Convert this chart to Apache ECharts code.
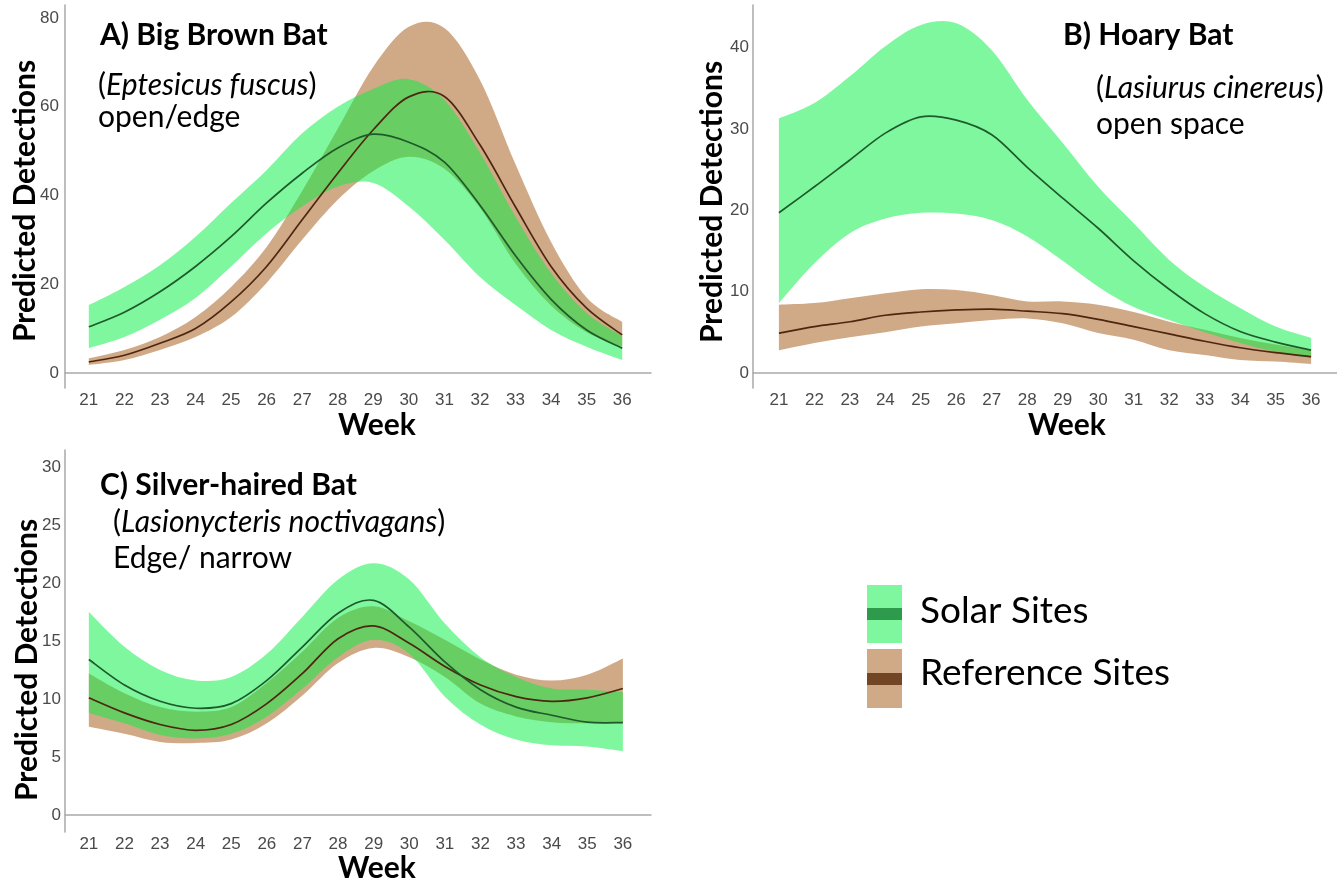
<!DOCTYPE html>
<html>
<head>
<meta charset="utf-8">
<title>Predicted weekly bat detections</title>
<script src="https://cdn.jsdelivr.net/npm/echarts@6/dist/echarts.min.js"></script>
<style>
  html, body { margin: 0; padding: 0; background: #fff; }
  #chart { width: 1337px; height: 884px; }
</style>
</head>
<body>
<div id="chart"></div>
<script>
// Survey weeks (x axis)
const weeks = [21, 22, 23, 24, 25, 26, 27, 28, 29, 30, 31, 32, 33, 34, 35, 36];

// Tick labels for the y axes
const ticksA = [0, 20, 40, 60, 80];
const ticksB = [0, 10, 20, 30, 40];
const ticksC = [0, 5, 10, 15, 20, 25, 30];

// A) Big Brown Bat — fitted detections with confidence band
const solarA_fit = [10.4, 13.7, 18.3, 24, 30.7, 38.3, 45, 50.7, 53.8, 52, 47.5, 37.8, 26.4, 16.6, 9.7, 5.6];
const solarA_hi  = [15.3, 19.4, 24.3, 30.7, 38.3, 45.7, 54, 60, 64, 66.2, 61.5, 49.6, 35.2, 22.5, 13.5, 8.3];
const solarA_lo  = [5.6, 8.1, 12, 16.9, 24, 31.5, 37.5, 42, 42.8, 37.5, 30, 21.6, 15.3, 9.7, 5.9, 2.9];
const refA_fit   = [2.5, 4, 6.7, 10, 16, 24, 34.5, 45, 54.8, 62.2, 62.3, 51.4, 37.4, 24, 14.6, 8.6];
const refA_hi    = [3.3, 5.2, 8.1, 12.6, 19.4, 28.4, 41, 55, 69, 78, 77.7, 66, 47, 29.5, 17, 11.5];
const refA_lo    = [1.8, 2.9, 5.2, 8.1, 12.6, 20.3, 30, 39, 45.5, 48.7, 46, 37.2, 24.6, 15.2, 9.2, 5.9];

// B) Hoary Bat
const solarB_fit = [19.7, 22.9, 26.2, 29.5, 31.5, 31.1, 29.3, 25.3, 21.5, 17.8, 13.8, 10.3, 7.3, 5.1, 3.8, 2.8];
const solarB_hi  = [31.3, 33.2, 36.5, 40.2, 42.8, 43, 39.7, 33.6, 28.3, 22.9, 18.4, 13.9, 10.6, 8, 5.7, 4.3];
const solarB_lo  = [8.6, 13.5, 17.2, 19, 19.7, 19.6, 18.8, 16.8, 13.8, 10.6, 8.1, 6.5, 5, 3.7, 2.6, 1.8];
const refB_fit   = [4.9, 5.7, 6.3, 7.1, 7.5, 7.75, 7.85, 7.6, 7.3, 6.6, 5.7, 4.8, 3.9, 3.1, 2.5, 2.0];
const refB_hi    = [8.4, 8.6, 9.2, 9.8, 10.3, 10.2, 9.6, 8.8, 8.8, 8.4, 7.5, 6.3, 5.3, 4.3, 3.5, 2.8];
const refB_lo    = [2.8, 3.7, 4.4, 5.0, 5.7, 6.1, 6.5, 6.7, 6.1, 4.9, 4.1, 2.8, 2.2, 1.6, 1.4, 1.1];

// C) Silver-haired Bat
const solarC_fit = [13.4, 11.2, 9.8, 9.2, 9.6, 11.6, 14.5, 17.4, 18.5, 16.2, 13.2, 10.8, 9.3, 8.6, 8.0, 7.96];
const solarC_hi  = [17.5, 14.5, 12.5, 11.6, 11.9, 13.9, 17.1, 20.3, 21.7, 20.3, 16.5, 13.6, 11.9, 10.9, 10.8, 10.6];
const solarC_lo  = [8.8, 7.9, 6.9, 6.6, 7.0, 8.5, 10.9, 13.6, 15.1, 13.9, 10.2, 7.8, 6.5, 6.0, 5.9, 5.5];
const refC_fit   = [10.1, 8.8, 7.8, 7.3, 7.8, 9.6, 12.2, 15.2, 16.3, 14.8, 12.8, 11.2, 10.2, 9.8, 10.1, 10.9];
const refC_hi    = [12.2, 10.5, 9.3, 8.9, 9.3, 11.4, 14.1, 17, 18, 16.7, 15.1, 13.4, 12.1, 11.6, 12.1, 13.5];
const refC_lo    = [7.6, 7.0, 6.3, 6.2, 6.5, 7.9, 10.3, 13.1, 14.4, 13.6, 11.9, 9.6, 8.5, 8.0, 7.9, 7.9];

// Colours
const SOLAR_FILL = 'rgba(0,240,64,0.5)';
const REF_FILL = 'rgba(161,85,15,0.5)';
const SOLAR_LINE = '#1f5a2b';
const REF_LINE = '#4e2610';

const TEXT_FONT = 'Lato, "Open Sans", sans-serif';
const TICK_FONT = '"Liberation Sans", Arial, sans-serif';

// Cubic bezier segments (Catmull-Rom) through pixel points
function curveSegments(pts) {
  let d = '';
  for (let i = 0; i < pts.length - 1; i++) {
    const p0 = pts[i - 1] || pts[i];
    const p1 = pts[i];
    const p2 = pts[i + 1];
    const p3 = pts[i + 2] || pts[i + 1];
    const c1x = p1[0] + (p2[0] - p0[0]) / 6, c1y = p1[1] + (p2[1] - p0[1]) / 6;
    const c2x = p2[0] - (p3[0] - p1[0]) / 6, c2y = p2[1] - (p3[1] - p1[1]) / 6;
    d += ' C' + c1x.toFixed(2) + ',' + c1y.toFixed(2) + ' ' + c2x.toFixed(2) + ',' +
         c2y.toFixed(2) + ' ' + p2[0].toFixed(2) + ',' + p2[1].toFixed(2);
  }
  return d;
}
const moveTo = (p) => 'M' + p[0].toFixed(2) + ',' + p[1].toFixed(2);
const lineTo = (p) => ' L' + p[0].toFixed(2) + ',' + p[1].toFixed(2);

// Confidence ribbon between lo and hi, drawn once for the whole series
function band(idx, name, hi, lo, fill) {
  return {
    type: 'custom', name: name, xAxisIndex: idx, yAxisIndex: idx, silent: true,
    data: weeks.map((w, i) => [w, lo[i], hi[i]]),
    encode: { x: 0, y: [1, 2] },
    renderItem: function (params, api) {
      if (params.dataIndex !== 0) return null;
      const upper = weeks.map((w, i) => api.coord([w, hi[i]]));
      const lower = weeks.map((w, i) => api.coord([w, lo[i]])).reverse();
      const d = moveTo(upper[0]) + curveSegments(upper) + lineTo(lower[0]) +
                curveSegments(lower) + ' Z';
      return { type: 'path', shape: { pathData: d }, style: { fill: fill, stroke: null } };
    }
  };
}

// Fitted curve
function fitLine(idx, name, vals, color) {
  return {
    type: 'custom', name: name, xAxisIndex: idx, yAxisIndex: idx, silent: true, z: 5,
    data: weeks.map((w, i) => [w, vals[i]]),
    encode: { x: 0, y: 1 },
    renderItem: function (params, api) {
      if (params.dataIndex !== 0) return null;
      const pts = weeks.map((w, i) => api.coord([w, vals[i]]));
      return {
        type: 'path', shape: { pathData: moveTo(pts[0]) + curveSegments(pts) },
        style: { fill: null, stroke: color, lineWidth: 1.7 }
      };
    }
  };
}

const axisLineStyle = { show: true, lineStyle: { color: '#a9a9a9', width: 1.5 } };

function xAxisFor(idx, min, max) {
  return {
    type: 'value', gridIndex: idx, min: min, max: max,
    axisLine: axisLineStyle, axisTick: { show: false }, splitLine: { show: false },
    axisLabel: {
      customValues: weeks, margin: 4, color: '#4a4a4a',
      fontSize: 17, fontFamily: TICK_FONT
    }
  };
}

function yAxisFor(idx, min, max, ticks, margin) {
  return {
    type: 'value', gridIndex: idx, min: min, max: max,
    axisLine: axisLineStyle, axisTick: { show: false }, splitLine: { show: false },
    axisLabel: {
      customValues: ticks, margin: margin, color: '#4a4a4a',
      fontSize: 17, fontFamily: TICK_FONT
    }
  };
}

function label(x, y, text, size, weight) {
  return {
    type: 'text', x: x, y: y, silent: true,
    style: {
      text: text, fill: '#000', textAlign: 'left', textVerticalAlign: 'middle',
      fontSize: size, fontWeight: weight, fontFamily: TEXT_FONT
    }
  };
}

function speciesLine(x, y, name) {
  return {
    type: 'text', x: x, y: y, silent: true,
    style: {
      text: '({i|' + name + '})', fill: '#000', textAlign: 'left', textVerticalAlign: 'middle',
      fontSize: 30, fontFamily: TEXT_FONT,
      rich: { i: { fontStyle: 'italic', fontSize: 30, fontFamily: TEXT_FONT, fill: '#000' } }
    }
  };
}

function axisTitle(x, y, text, rotated) {
  return {
    type: 'text', x: x, y: y, rotation: rotated ? Math.PI / 2 : 0, silent: true,
    style: {
      text: text, fill: '#000', textAlign: 'center', textVerticalAlign: 'middle',
      fontSize: 30, fontWeight: 'bold', fontFamily: TEXT_FONT
    }
  };
}

const series = [
  band(0, 'Reference A', refA_hi, refA_lo, REF_FILL),
  band(0, 'Solar A', solarA_hi, solarA_lo, SOLAR_FILL),
  fitLine(0, 'Reference A fit', refA_fit, REF_LINE),
  fitLine(0, 'Solar A fit', solarA_fit, SOLAR_LINE),
  band(1, 'Reference B', refB_hi, refB_lo, REF_FILL),
  band(1, 'Solar B', solarB_hi, solarB_lo, SOLAR_FILL),
  fitLine(1, 'Reference B fit', refB_fit, REF_LINE),
  fitLine(1, 'Solar B fit', solarB_fit, SOLAR_LINE),
  band(2, 'Reference C', refC_hi, refC_lo, REF_FILL),
  band(2, 'Solar C', solarC_hi, solarC_lo, SOLAR_FILL),
  fitLine(2, 'Reference C fit', refC_fit, REF_LINE),
  fitLine(2, 'Solar C fit', solarC_fit, SOLAR_LINE)
];

const option = {
  animation: false,
  backgroundColor: '#ffffff',
  grid: [
    { left: 65, top: 5, width: 586, height: 383, outerBoundsMode: 'none' },
    { left: 753, top: 5, width: 584, height: 383, outerBoundsMode: 'none' },
    { left: 65, top: 450, width: 586, height: 382, outerBoundsMode: 'none' }
  ],
  xAxis: [
    xAxisFor(0, 20.33, 36.81),
    xAxisFor(1, 20.27, 36.73),
    xAxisFor(2, 20.33, 36.79)
  ],
  yAxis: [
    yAxisFor(0, -3.38, 82.9, ticksA, 6),
    yAxisFor(1, -1.85, 45.26, ticksB, 4),
    yAxisFor(2, -1.47, 31.47, ticksC, 4)
  ],
  series: series,
  graphic: [
    // panel headings
    label(100, 35, 'A) Big Brown Bat', 30, 'bold'),
    speciesLine(98, 85, 'Eptesicus fuscus'),
    label(98, 117, 'open/edge', 30, 'normal'),

    label(1063, 35, 'B) Hoary Bat', 30, 'bold'),
    speciesLine(1096, 88, 'Lasiurus cinereus'),
    label(1096, 124, 'open space', 30, 'normal'),

    label(100, 485, 'C) Silver-haired Bat', 30, 'bold'),
    speciesLine(113, 522, 'Lasionycteris noctivagans'),
    label(113, 558, 'Edge/ narrow', 30, 'normal'),

    // axis titles
    axisTitle(25, 201, 'Predicted Detections', true),
    axisTitle(712, 202, 'Predicted Detections', true),
    axisTitle(27, 660, 'Predicted Detections', true),
    axisTitle(377, 425, 'Week', false),
    axisTitle(1067, 425, 'Week', false),
    axisTitle(377, 868, 'Week', false),

    // legend
    { type: 'rect', silent: true, shape: { x: 867, y: 585, width: 35, height: 58 }, style: { fill: SOLAR_FILL } },
    { type: 'rect', silent: true, shape: { x: 867, y: 608, width: 35, height: 12 }, style: { fill: '#2e9a4c' } },
    { type: 'rect', silent: true, shape: { x: 867, y: 649, width: 35, height: 59 }, style: { fill: REF_FILL } },
    { type: 'rect', silent: true, shape: { x: 867, y: 673, width: 35, height: 12 }, style: { fill: '#724624' } },
    label(920, 611, 'Solar Sites', 37, 'normal'),
    label(920, 673, 'Reference Sites', 37, 'normal')
  ]
};

const chart = echarts.init(document.getElementById('chart'), null, { renderer: 'canvas' });
chart.setOption(option);
</script>
</body>
</html>
